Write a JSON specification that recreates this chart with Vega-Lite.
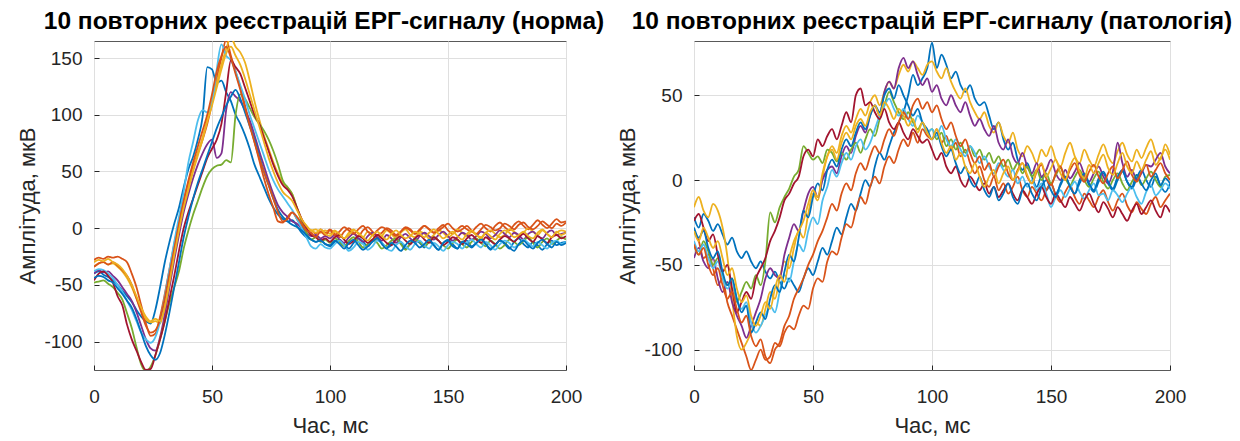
{
  "$schema": "https://vega.github.io/schema/vega-lite/v6.json",
  "background": "white",
  "padding": {"left": 16, "right": 0, "top": 8, "bottom": 0},
  "bounds": "flush",
  "spacing": 128,
  "config": {
    "font": "Liberation Sans",
    "view": {"stroke": "#595959", "strokeWidth": 1},
    "title": {"font": "Liberation Sans", "fontSize": 24.5, "fontWeight": "bold", "color": "#000000", "anchor": "middle", "frame": "group", "offset": 7},
    "axis": {
      "labelFont": "Liberation Sans", "labelFontSize": 19, "labelColor": "#262626",
      "titleFont": "Liberation Sans", "titleFontSize": 22, "titleFontWeight": "normal", "titleColor": "#262626",
      "grid": true, "gridColor": "#dfdfdf", "gridWidth": 1, "domain": false,
      "ticks": true, "tickColor": "#262626", "tickSize": -5, "labelFlush": false,
      "labelExpr": "'' + datum.value"
    },
    "axisX": {"labelPadding": 22, "titlePadding": 9},
    "axisY": {"labelPadding": 17, "titlePadding": 4}
  },
  "datasets": {
    "norma": [
      {"t":0,"a":-40,"b":-28,"c":-34,"d":-40,"e":-48,"f":-38,"g":-46,"h":-44,"i":-34,"j":-30},
      {"t":2,"a":-38,"b":-26,"c":-31,"d":-37,"e":-47,"f":-36,"g":-40,"h":-42,"i":-31,"j":-28},
      {"t":4,"a":-41,"b":-27,"c":-30,"d":-39,"e":-46,"f":-37,"g":-38,"h":-43,"i":-30,"j":-29},
      {"t":6,"a":-43,"b":-25,"c":-32,"d":-38,"e":-49,"f":-40,"g":-42,"h":-46,"i":-32,"j":-27},
      {"t":8,"a":-46,"b":-26,"c":-31,"d":-42,"e":-52,"f":-44,"g":-48,"h":-48,"i":-30,"j":-30},
      {"t":10,"a":-50,"b":-25,"c":-34,"d":-46,"e":-57,"f":-50,"g":-60,"h":-53,"i":-33,"j":-32},
      {"t":12,"a":-55,"b":-27,"c":-38,"d":-52,"e":-63,"f":-56,"g":-68,"h":-58,"i":-37,"j":-36},
      {"t":14,"a":-60,"b":-30,"c":-44,"d":-58,"e":-75,"f":-64,"g":-85,"h":-64,"i":-42,"j":-42},
      {"t":16,"a":-65,"b":-40,"c":-52,"d":-64,"e":-88,"f":-72,"g":-98,"h":-70,"i":-50,"j":-50},
      {"t":18,"a":-72,"b":-52,"c":-62,"d":-74,"e":-105,"f":-82,"g":-108,"h":-80,"i":-62,"j":-60},
      {"t":20,"a":-78,"b":-68,"c":-72,"d":-86,"e":-120,"f":-92,"g":-118,"h":-92,"i":-74,"j":-70},
      {"t":22,"a":-82,"b":-84,"c":-80,"d":-98,"e":-126,"f":-98,"g":-125,"h":-104,"i":-86,"j":-78},
      {"t":24,"a":-84,"b":-95,"c":-83,"d":-106,"e":-122,"f":-101,"g":-124,"h":-112,"i":-92,"j":-82},
      {"t":26,"a":-72,"b":-93,"c":-82,"d":-108,"e":-112,"f":-96,"g":-112,"h":-116,"i":-90,"j":-80},
      {"t":28,"a":-52,"b":-78,"c":-84,"d":-96,"e":-98,"f":-82,"g":-98,"h":-110,"i":-80,"j":-82},
      {"t":30,"a":-30,"b":-58,"c":-68,"d":-76,"e":-82,"f":-60,"g":-82,"h":-94,"i":-62,"j":-70},
      {"t":32,"a":-12,"b":-36,"c":-45,"d":-52,"e":-66,"f":-36,"g":-62,"h":-74,"i":-40,"j":-48},
      {"t":34,"a":4,"b":-14,"c":-20,"d":-28,"e":-52,"f":-12,"g":-42,"h":-52,"i":-18,"j":-24},
      {"t":36,"a":18,"b":6,"c":2,"d":-6,"e":-38,"f":10,"g":-20,"h":-30,"i":4,"j":-2},
      {"t":38,"a":36,"b":24,"c":22,"d":14,"e":-18,"f":32,"g":0,"h":-8,"i":24,"j":18},
      {"t":40,"a":52,"b":40,"c":38,"d":30,"e":-2,"f":58,"g":14,"h":10,"i":42,"j":34},
      {"t":42,"a":63,"b":54,"c":52,"d":44,"e":12,"f":76,"g":26,"h":26,"i":58,"j":50},
      {"t":44,"a":78,"b":66,"c":66,"d":56,"e":24,"f":95,"g":38,"h":40,"i":72,"j":64},
      {"t":46,"a":98,"b":78,"c":80,"d":66,"e":36,"f":104,"g":50,"h":52,"i":86,"j":78},
      {"t":48,"a":142,"b":92,"c":96,"d":74,"e":46,"f":102,"g":62,"h":64,"i":100,"j":94},
      {"t":50,"a":140,"b":110,"c":112,"d":78,"e":52,"f":110,"g":70,"h":76,"i":118,"j":108},
      {"t":52,"a":128,"b":132,"c":128,"d":62,"e":55,"f":140,"g":78,"h":88,"i":138,"j":124},
      {"t":54,"a":130,"b":150,"c":144,"d":66,"e":56,"f":162,"g":92,"h":98,"i":152,"j":140},
      {"t":56,"a":120,"b":166,"c":158,"d":104,"e":60,"f":152,"g":120,"h":108,"i":160,"j":154},
      {"t":58,"a":112,"b":152,"c":168,"d":120,"e":58,"f":148,"g":148,"h":116,"i":150,"j":160},
      {"t":60,"a":100,"b":138,"c":160,"d":116,"e":100,"f":138,"g":142,"h":122,"i":136,"j":152},
      {"t":62,"a":92,"b":124,"c":155,"d":112,"e":118,"f":126,"g":136,"h":114,"i":122,"j":144},
      {"t":64,"a":82,"b":108,"c":146,"d":104,"e":114,"f":114,"g":124,"h":102,"i":106,"j":132},
      {"t":66,"a":70,"b":92,"c":130,"d":95,"e":106,"f":100,"g":112,"h":90,"i":90,"j":118},
      {"t":68,"a":56,"b":76,"c":112,"d":82,"e":98,"f":88,"g":100,"h":78,"i":76,"j":104},
      {"t":70,"a":46,"b":60,"c":96,"d":68,"e":92,"f":76,"g":92,"h":64,"i":62,"j":90},
      {"t":72,"a":36,"b":44,"c":82,"d":55,"e":86,"f":64,"g":80,"h":50,"i":50,"j":76},
      {"t":74,"a":26,"b":30,"c":70,"d":42,"e":78,"f":52,"g":68,"h":38,"i":38,"j":62},
      {"t":76,"a":18,"b":18,"c":58,"d":30,"e":68,"f":42,"g":56,"h":26,"i":26,"j":50},
      {"t":78,"a":12,"b":6,"c":48,"d":20,"e":56,"f":34,"g":46,"h":16,"i":14,"j":40},
      {"t":80,"a":8,"b":5,"c":40,"d":14,"e":42,"f":28,"g":38,"h":10,"i":6,"j":32},
      {"t":82,"a":6,"b":10,"c":36,"d":10,"e":36,"f":22,"g":34,"h":6,"i":8,"j":28},
      {"t":84,"a":7,"b":14,"c":30,"d":6,"e":30,"f":16,"g":28,"h":3,"i":14,"j":24},
      {"t":86,"a":2,"b":8,"c":18,"d":4,"e":18,"f":8,"g":18,"h":1,"i":10,"j":16},
      {"t":88,"a":-4,"b":2,"c":8,"d":0,"e":6,"f":0,"g":8,"h":-2,"i":4,"j":8},
      {"t":90,"a":-8,"b":-3,"c":2,"d":-4,"e":-4,"f":-8,"g":0,"h":-6,"i":-2,"j":2},
      {"t":92,"a":-10,"b":-2,"c":-2,"d":-7,"e":-10,"f":-16,"g":-6,"h":-10,"i":-4,"j":-2},
      {"t":94,"a":-12,"b":-5,"c":-1,"d":-6,"e":-8,"f":-18,"g":-8,"h":-12,"i":-8,"j":-4},
      {"t":96,"a":-10,"b":-1,"c":-4,"d":-9,"e":-12,"f":-14,"g":-11,"h":-11,"i":-3,"j":-1},
      {"t":98,"a":-14,"b":-4,"c":-2,"d":-7,"e":-10,"f":-17,"g":-9,"h":-14,"i":-6,"j":-5},
      {"t":100,"a":-16,"b":-1,"c":-5,"d":-9,"e":-13,"f":-18,"g":-12,"h":-15,"i":-2,"j":-7},
      {"t":102,"a":-12,"b":-5,"c":-2,"d":-6,"e":-9,"f":-14,"g":-8,"h":-11,"i":-6,"j":-3},
      {"t":104,"a":-10,"b":-8,"c":-6,"d":-10,"e":-12,"f":-11,"g":-6,"h":-14,"i":-3,"j":-5},
      {"t":106,"a":-14,"b":-3,"c":-9,"d":-13,"e":-16,"f":-15,"g":-10,"h":-18,"i":1,"j":-9},
      {"t":108,"a":-18,"b":0,"c":-4,"d":-8,"e":-11,"f":-20,"g":-14,"h":-13,"i":-2,"j":-6},
      {"t":110,"a":-13,"b":-4,"c":-1,"d":-5,"e":-8,"f":-17,"g":-11,"h":-10,"i":-5,"j":-2},
      {"t":112,"a":-9,"b":-7,"c":-5,"d":-9,"e":-12,"f":-12,"g":-7,"h":-15,"i":-1,"j":-4},
      {"t":114,"a":-12,"b":-2,"c":-8,"d":-12,"e":-17,"f":-14,"g":-9,"h":-19,"i":2,"j":-8},
      {"t":116,"a":-16,"b":1,"c":-3,"d":-7,"e":-14,"f":-19,"g":-13,"h":-16,"i":-3,"j":-11},
      {"t":118,"a":-11,"b":-3,"c":-6,"d":-4,"e":-10,"f":-16,"g":-10,"h":-12,"i":-6,"j":-6},
      {"t":120,"a":-8,"b":-6,"c":-10,"d":-8,"e":-13,"f":-11,"g":-6,"h":-9,"i":-2,"j":-3},
      {"t":122,"a":-13,"b":-4,"c":-7,"d":-11,"e":-18,"f":-13,"g":-9,"h":-14,"i":1,"j":-7},
      {"t":124,"a":-17,"b":0,"c":-2,"d":-6,"e":-15,"f":-18,"g":-13,"h":-18,"i":-1,"j":-10},
      {"t":126,"a":-15,"b":-2,"c":-5,"d":-9,"e":-11,"f":-20,"g":-15,"h":-13,"i":-4,"j":-5},
      {"t":128,"a":-10,"b":-6,"c":-9,"d":-13,"e":-9,"f":-15,"g":-10,"h":-16,"i":-7,"j":-2},
      {"t":130,"a":-12,"b":-3,"c":-4,"d":-8,"e":-14,"f":-12,"g":-7,"h":-20,"i":-3,"j":-6},
      {"t":132,"a":-18,"b":1,"c":-1,"d":-5,"e":-19,"f":-16,"g":-11,"h":-15,"i":0,"j":-9},
      {"t":134,"a":-14,"b":-1,"c":-6,"d":-9,"e":-13,"f":-19,"g":-14,"h":-11,"i":-2,"j":-7},
      {"t":136,"a":-9,"b":-5,"c":-8,"d":-12,"e":-10,"f":-14,"g":-9,"h":-13,"i":-5,"j":-3},
      {"t":138,"a":-13,"b":-2,"c":-3,"d":-7,"e":-12,"f":-11,"g":-6,"h":-17,"i":-1,"j":-5},
      {"t":140,"a":-17,"b":2,"c":-5,"d":-4,"e":-16,"f":-15,"g":-10,"h":-14,"i":2,"j":-8},
      {"t":142,"a":-12,"b":-1,"c":-9,"d":-7,"e":-12,"f":-18,"g":-13,"h":-10,"i":-1,"j":-4},
      {"t":144,"a":-15,"b":-4,"c":-6,"d":-10,"e":-8,"f":-13,"g":-8,"h":-15,"i":-4,"j":-1},
      {"t":146,"a":-19,"b":0,"c":-2,"d":-6,"e":-11,"f":-16,"g":-11,"h":-19,"i":-2,"j":-5},
      {"t":148,"a":-13,"b":3,"c":-4,"d":-3,"e":-15,"f":-20,"g":-15,"h":-13,"i":1,"j":-9},
      {"t":150,"a":-10,"b":-2,"c":-8,"d":-7,"e":-18,"f":-15,"g":-12,"h":-11,"i":4,"j":-6},
      {"t":152,"a":-14,"b":-5,"c":-5,"d":-11,"e":-13,"f":-12,"g":-8,"h":-16,"i":0,"j":-3},
      {"t":154,"a":-18,"b":-1,"c":-1,"d":-8,"e":-10,"f":-14,"g":-10,"h":-18,"i":-3,"j":-7},
      {"t":156,"a":-12,"b":2,"c":-4,"d":-4,"e":-14,"f":-18,"g":-14,"h":-12,"i":-1,"j":-10},
      {"t":158,"a":-11,"b":-1,"c":-7,"d":-6,"e":-17,"f":-13,"g":-9,"h":-14,"i":2,"j":-5},
      {"t":160,"a":-16,"b":-3,"c":-3,"d":-10,"e":-12,"f":-10,"g":-6,"h":-17,"i":-2,"j":-2},
      {"t":162,"a":-13,"b":1,"c":-6,"d":-7,"e":-9,"f":-14,"g":-10,"h":-13,"i":-5,"j":-6},
      {"t":164,"a":-9,"b":4,"c":-9,"d":-3,"e":-13,"f":-17,"g":-13,"h":-10,"i":-1,"j":-8},
      {"t":166,"a":-14,"b":0,"c":-4,"d":-5,"e":-16,"f":-12,"g":-8,"h":-14,"i":3,"j":-4},
      {"t":168,"a":-19,"b":-3,"c":-2,"d":-9,"e":-11,"f":-15,"g":-11,"h":-18,"i":1,"j":-7},
      {"t":170,"a":-15,"b":2,"c":-5,"d":-6,"e":-14,"f":-19,"g":-14,"h":-15,"i":-2,"j":-10},
      {"t":172,"a":-11,"b":5,"c":-8,"d":-2,"e":-18,"f":-14,"g":-10,"h":-11,"i":0,"j":-5},
      {"t":174,"a":-14,"b":1,"c":-6,"d":-5,"e":-15,"f":-11,"g":-7,"h":-13,"i":4,"j":-2},
      {"t":176,"a":-18,"b":-2,"c":-1,"d":-8,"e":-10,"f":-13,"g":-9,"h":-17,"i":2,"j":-4},
      {"t":178,"a":-12,"b":3,"c":-3,"d":-4,"e":-12,"f":-17,"g":-12,"h":-20,"i":-1,"j":-8},
      {"t":180,"a":-9,"b":6,"c":-7,"d":-6,"e":-15,"f":-14,"g":-8,"h":-14,"i":3,"j":-6},
      {"t":182,"a":-14,"b":2,"c":-4,"d":-10,"e":-11,"f":-10,"g":-5,"h":-11,"i":5,"j":-3},
      {"t":184,"a":-17,"b":-1,"c":0,"d":-5,"e":-8,"f":-13,"g":-9,"h":-15,"i":1,"j":-7},
      {"t":186,"a":-12,"b":3,"c":-3,"d":-3,"e":-13,"f":-16,"g":-12,"h":-18,"i":-1,"j":-9},
      {"t":188,"a":-15,"b":7,"c":-6,"d":-7,"e":-17,"f":-12,"g":-7,"h":-13,"i":2,"j":-4},
      {"t":190,"a":-19,"b":3,"c":-2,"d":-9,"e":-12,"f":-15,"g":-10,"h":-10,"i":6,"j":-1},
      {"t":192,"a":-14,"b":0,"c":-5,"d":-4,"e":-9,"f":-18,"g":-13,"h":-14,"i":3,"j":-5},
      {"t":194,"a":-11,"b":4,"c":-8,"d":-2,"e":-14,"f":-13,"g":-8,"h":-17,"i":0,"j":-8},
      {"t":196,"a":-15,"b":8,"c":-4,"d":-6,"e":-11,"f":-11,"g":-6,"h":-12,"i":4,"j":-3},
      {"t":198,"a":-13,"b":5,"c":-2,"d":-5,"e":-8,"f":-14,"g":-9,"h":-15,"i":2,"j":-6},
      {"t":200,"a":-12,"b":6,"c":-3,"d":-4,"e":-10,"f":-12,"g":-7,"h":-13,"i":5,"j":-4}
    ],
    "patologiia": [
      {"t":0,"a":-22,"b":-30,"c":-16,"d":-46,"e":-38,"f":-36,"g":-24,"h":-28,"i":-38,"j":-30},
      {"t":2,"a":-28,"b":-36,"c":-10,"d":-40,"e":-44,"f":-42,"g":-20,"h":-34,"i":-44,"j":-36},
      {"t":4,"a":-20,"b":-46,"c":-18,"d":-48,"e":-36,"f":-38,"g":-28,"h":-30,"i":-40,"j":-28},
      {"t":6,"a":-24,"b":-44,"c":-22,"d":-52,"e":-42,"f":-46,"g":-36,"h":-40,"i":-50,"j":-34},
      {"t":8,"a":-30,"b":-52,"c":-14,"d":-46,"e":-50,"f":-52,"g":-32,"h":-46,"i":-56,"j":-40},
      {"t":10,"a":-26,"b":-62,"c":-18,"d":-58,"e":-46,"f":-48,"g":-44,"h":-42,"i":-52,"j":-36},
      {"t":12,"a":-32,"b":-58,"c":-28,"d":-66,"e":-56,"f":-58,"g":-54,"h":-54,"i":-62,"j":-46},
      {"t":14,"a":-38,"b":-72,"c":-45,"d":-60,"e":-62,"f":-64,"g":-50,"h":-62,"i":-70,"j":-56},
      {"t":16,"a":-34,"b":-80,"c":-70,"d":-72,"e":-58,"f":-60,"g":-64,"h":-58,"i":-66,"j":-52},
      {"t":18,"a":-42,"b":-88,"c":-92,"d":-80,"e":-72,"f":-70,"g":-78,"h":-70,"i":-76,"j":-64},
      {"t":20,"a":-46,"b":-96,"c":-100,"d":-86,"e":-66,"f":-76,"g":-72,"h":-78,"i":-84,"j":-72},
      {"t":22,"a":-42,"b":-104,"c":-96,"d":-93,"e":-60,"f":-72,"g":-66,"h":-74,"i":-80,"j":-68},
      {"t":24,"a":-48,"b":-112,"c":-90,"d":-86,"e":-64,"f":-84,"g":-70,"h":-90,"i":-92,"j":-80},
      {"t":26,"a":-52,"b":-106,"c":-84,"d":-78,"e":-56,"f":-90,"g":-58,"h":-84,"i":-98,"j":-86},
      {"t":28,"a":-48,"b":-100,"c":-86,"d":-70,"e":-62,"f":-86,"g":-52,"h":-78,"i":-94,"j":-80},
      {"t":30,"a":-54,"b":-106,"c":-76,"d":-58,"e":-48,"f":-80,"g":-46,"h":-82,"i":-104,"j":-72},
      {"t":32,"a":-58,"b":-104,"c":-66,"d":-52,"e":-19,"f":-74,"g":-36,"h":-70,"i":-108,"j":-76},
      {"t":34,"a":-54,"b":-96,"c":-70,"d":-56,"e":-25,"f":-78,"g":-30,"h":-62,"i":-100,"j":-64},
      {"t":36,"a":-60,"b":-98,"c":-58,"d":-58,"e":-16,"f":-66,"g":-22,"h":-66,"i":-96,"j":-56},
      {"t":38,"a":-64,"b":-90,"c":-48,"d":-44,"e":-10,"f":-56,"g":-12,"h":-54,"i":-86,"j":-60},
      {"t":40,"a":-58,"b":-86,"c":-52,"d":-34,"e":-5,"f":-60,"g":-8,"h":-44,"i":-80,"j":-46},
      {"t":42,"a":-62,"b":-88,"c":-40,"d":-26,"e":2,"f":-48,"g":-2,"h":-48,"i":-70,"j":-36},
      {"t":44,"a":-66,"b":-80,"c":-30,"d":-30,"e":6,"f":-38,"g":2,"h":-34,"i":-64,"j":-30},
      {"t":46,"a":-58,"b":-74,"c":-34,"d":-18,"e":20,"f":-42,"g":14,"h":-18,"i":-58,"j":-24},
      {"t":48,"a":-52,"b":-76,"c":-20,"d":-8,"e":16,"f":-30,"g":18,"h":-22,"i":-50,"j":-14},
      {"t":50,"a":-56,"b":-64,"c":-8,"d":-4,"e":12,"f":-22,"g":14,"h":-10,"i":-44,"j":-6},
      {"t":52,"a":-48,"b":-58,"c":-12,"d":-10,"e":14,"f":-26,"g":24,"h":-2,"i":-36,"j":-10},
      {"t":54,"a":-40,"b":-60,"c":2,"d":0,"e":10,"f":-12,"g":20,"h":-6,"i":-30,"j":4},
      {"t":56,"a":-44,"b":-48,"c":14,"d":6,"e":18,"f":-4,"g":26,"h":6,"i":-22,"j":14},
      {"t":58,"a":-36,"b":-42,"c":20,"d":8,"e":16,"f":6,"g":30,"h":12,"i":-14,"j":18},
      {"t":60,"a":-28,"b":-44,"c":16,"d":4,"e":11,"f":2,"g":24,"h":8,"i":-18,"j":12},
      {"t":62,"a":-32,"b":-34,"c":26,"d":14,"e":16,"f":10,"g":32,"h":18,"i":-8,"j":22},
      {"t":64,"a":-22,"b":-26,"c":32,"d":20,"e":12,"f":16,"g":40,"h":24,"i":-2,"j":28},
      {"t":66,"a":-14,"b":-28,"c":28,"d":16,"e":18,"f":12,"g":34,"h":20,"i":-6,"j":24},
      {"t":68,"a":-18,"b":-18,"c":36,"d":26,"e":22,"f":20,"g":50,"h":28,"i":4,"j":32},
      {"t":70,"a":-8,"b":-10,"c":42,"d":32,"e":16,"f":24,"g":54,"h":34,"i":10,"j":36},
      {"t":72,"a":0,"b":-14,"c":38,"d":28,"e":24,"f":18,"g":44,"h":30,"i":6,"j":32},
      {"t":74,"a":-4,"b":-4,"c":46,"d":38,"e":30,"f":22,"g":46,"h":38,"i":14,"j":40},
      {"t":76,"a":8,"b":2,"c":50,"d":44,"e":26,"f":30,"g":40,"h":44,"i":20,"j":44},
      {"t":78,"a":16,"b":-2,"c":44,"d":38,"e":36,"f":38,"g":36,"h":40,"i":16,"j":38},
      {"t":80,"a":12,"b":8,"c":52,"d":52,"e":44,"f":44,"g":42,"h":50,"i":24,"j":46},
      {"t":82,"a":20,"b":14,"c":58,"d":58,"e":52,"f":48,"g":34,"h":54,"i":30,"j":42},
      {"t":84,"a":28,"b":10,"c":54,"d":54,"e":46,"f":42,"g":30,"h":48,"i":26,"j":36},
      {"t":86,"a":34,"b":18,"c":62,"d":66,"e":40,"f":38,"g":34,"h":56,"i":34,"j":42},
      {"t":88,"a":40,"b":24,"c":68,"d":72,"e":36,"f":42,"g":28,"h":50,"i":40,"j":38},
      {"t":90,"a":50,"b":20,"c":64,"d":66,"e":40,"f":36,"g":24,"h":44,"i":36,"j":32},
      {"t":92,"a":62,"b":28,"c":70,"d":70,"e":34,"f":32,"g":30,"h":38,"i":44,"j":36},
      {"t":94,"a":56,"b":22,"c":66,"d":62,"e":30,"f":38,"g":26,"h":42,"i":48,"j":28},
      {"t":96,"a":60,"b":30,"c":62,"d":56,"e":34,"f":34,"g":22,"h":34,"i":42,"j":34},
      {"t":98,"a":66,"b":26,"c":68,"d":60,"e":28,"f":28,"g":24,"h":30,"i":46,"j":28},
      {"t":100,"a":81,"b":24,"c":70,"d":52,"e":30,"f":30,"g":18,"h":24,"i":40,"j":24},
      {"t":102,"a":66,"b":30,"c":64,"d":56,"e":24,"f":26,"g":12,"h":28,"i":44,"j":30},
      {"t":104,"a":74,"b":22,"c":60,"d":48,"e":28,"f":32,"g":16,"h":20,"i":36,"j":22},
      {"t":106,"a":68,"b":26,"c":66,"d":44,"e":20,"f":24,"g":8,"h":14,"i":30,"j":16},
      {"t":108,"a":60,"b":18,"c":58,"d":50,"e":24,"f":20,"g":4,"h":18,"i":34,"j":20},
      {"t":110,"a":64,"b":22,"c":52,"d":44,"e":18,"f":24,"g":8,"h":10,"i":26,"j":12},
      {"t":112,"a":56,"b":14,"c":48,"d":40,"e":22,"f":18,"g":0,"h":4,"i":20,"j":16},
      {"t":114,"a":52,"b":18,"c":54,"d":46,"e":16,"f":14,"g":-4,"h":8,"i":24,"j":8},
      {"t":116,"a":56,"b":10,"c":46,"d":38,"e":20,"f":20,"g":2,"h":0,"i":16,"j":4},
      {"t":118,"a":48,"b":4,"c":40,"d":32,"e":14,"f":16,"g":-2,"h":-4,"i":10,"j":10},
      {"t":120,"a":44,"b":8,"c":36,"d":36,"e":18,"f":10,"g":-6,"h":2,"i":14,"j":2},
      {"t":122,"a":46,"b":0,"c":40,"d":30,"e":12,"f":14,"g":-2,"h":-6,"i":6,"j":-4},
      {"t":124,"a":38,"b":-4,"c":32,"d":26,"e":16,"f":8,"g":-8,"h":-10,"i":10,"j":2},
      {"t":126,"a":30,"b":2,"c":28,"d":32,"e":10,"f":4,"g":-4,"h":-4,"i":2,"j":6},
      {"t":128,"a":34,"b":-6,"c":34,"d":22,"e":14,"f":10,"g":-10,"h":-12,"i":8,"j":-2},
      {"t":130,"a":24,"b":-2,"c":26,"d":18,"e":8,"f":6,"g":-6,"h":-8,"i":12,"j":4},
      {"t":132,"a":18,"b":-8,"c":22,"d":24,"e":12,"f":2,"g":-2,"h":-2,"i":4,"j":8},
      {"t":134,"a":22,"b":-4,"c":28,"d":14,"e":6,"f":6,"g":-8,"h":-10,"i":0,"j":0},
      {"t":136,"a":12,"b":2,"c":18,"d":10,"e":10,"f":-2,"g":-12,"h":-14,"i":6,"j":5},
      {"t":138,"a":6,"b":-6,"c":14,"d":16,"e":4,"f":2,"g":-6,"h":-6,"i":10,"j":10},
      {"t":140,"a":10,"b":-10,"c":20,"d":8,"e":8,"f":-4,"g":-10,"h":-2,"i":2,"j":3},
      {"t":142,"a":2,"b":-4,"c":16,"d":4,"e":2,"f":0,"g":-14,"h":-8,"i":-2,"j":-2},
      {"t":144,"a":-4,"b":-8,"c":10,"d":10,"e":6,"f":-6,"g":-8,"h":-12,"i":5,"j":6},
      {"t":146,"a":2,"b":-12,"c":18,"d":2,"e":0,"f":-2,"g":-4,"h":-4,"i":9,"j":10},
      {"t":148,"a":-6,"b":-6,"c":14,"d":6,"e":4,"f":-8,"g":-10,"h":0,"i":1,"j":2},
      {"t":150,"a":-2,"b":-2,"c":20,"d":12,"e":-2,"f":-16,"g":-14,"h":-6,"i":-3,"j":7},
      {"t":152,"a":-8,"b":-9,"c":12,"d":4,"e":3,"f":-10,"g":-8,"h":-10,"i":4,"j":12},
      {"t":154,"a":-3,"b":-13,"c":8,"d":0,"e":7,"f":-6,"g":-12,"h":-2,"i":8,"j":4},
      {"t":156,"a":2,"b":-7,"c":16,"d":6,"e":1,"f":-10,"g":-16,"h":2,"i":0,"j":0},
      {"t":158,"a":-4,"b":-3,"c":22,"d":1,"e":-3,"f":-5,"g":-10,"h":-4,"i":6,"j":8},
      {"t":160,"a":-8,"b":-10,"c":14,"d":5,"e":2,"f":-1,"g":-14,"h":-8,"i":10,"j":13},
      {"t":162,"a":-2,"b":-14,"c":10,"d":10,"e":6,"f":-7,"g":-18,"h":0,"i":3,"j":5},
      {"t":164,"a":3,"b":-8,"c":18,"d":3,"e":0,"f":-11,"g":-12,"h":4,"i":-1,"j":1},
      {"t":166,"a":-3,"b":-12,"c":12,"d":-1,"e":-4,"f":-6,"g":-8,"h":-2,"i":5,"j":9},
      {"t":168,"a":-7,"b":-16,"c":8,"d":4,"e":1,"f":-2,"g":-14,"h":-6,"i":9,"j":4},
      {"t":170,"a":-1,"b":-10,"c":15,"d":8,"e":5,"f":-9,"g":-19,"h":1,"i":2,"j":10},
      {"t":172,"a":4,"b":-6,"c":21,"d":2,"e":-1,"f":-8,"g":-13,"h":5,"i":-2,"j":15},
      {"t":174,"a":-2,"b":-13,"c":14,"d":-2,"e":-5,"f":-12,"g":-17,"h":-1,"i":4,"j":7},
      {"t":176,"a":-6,"b":-18,"c":10,"d":5,"e":0,"f":-6,"g":-22,"h":-5,"i":8,"j":3},
      {"t":178,"a":0,"b":-12,"c":17,"d":22,"e":4,"f":-9,"g":-16,"h":2,"i":1,"j":10},
      {"t":180,"a":5,"b":-8,"c":22,"d":10,"e":-2,"f":-13,"g":-20,"h":6,"i":6,"j":16},
      {"t":182,"a":-1,"b":-15,"c":15,"d":2,"e":-6,"f":-8,"g":-24,"h":-1,"i":11,"j":8},
      {"t":184,"a":-5,"b":-19,"c":11,"d":6,"e":-1,"f":-4,"g":-18,"h":-4,"i":3,"j":4},
      {"t":186,"a":1,"b":-13,"c":18,"d":0,"e":3,"f":-10,"g":-14,"h":3,"i":-1,"j":11},
      {"t":188,"a":6,"b":-17,"c":13,"d":4,"e":-3,"f":-14,"g":-20,"h":-2,"i":5,"j":6},
      {"t":190,"a":0,"b":-20,"c":19,"d":9,"e":1,"f":-7,"g":-16,"h":-6,"i":9,"j":12},
      {"t":192,"a":-4,"b":-14,"c":24,"d":8,"e":5,"f":-3,"g":-12,"h":0,"i":2,"j":17},
      {"t":194,"a":2,"b":-10,"c":16,"d":12,"e":0,"f":-9,"g":-18,"h":4,"i":6,"j":9},
      {"t":196,"a":-3,"b":-16,"c":12,"d":16,"e":-4,"f":-6,"g":-22,"h":-3,"i":10,"j":13},
      {"t":198,"a":-7,"b":-12,"c":21,"d":8,"e":2,"f":-2,"g":-15,"h":1,"i":4,"j":18},
      {"t":200,"a":-2,"b":-8,"c":15,"d":4,"e":3,"f":-5,"g":-19,"h":-2,"i":0,"j":12}
    ]
  },
  "hconcat": [
    {
      "data": {"name": "norma"},
      "transform": [{"fold": ["a", "b", "c", "d", "e", "f", "g", "h", "i", "j"], "as": ["s", "v"]}],
      "title": {"text": "10 повторних реєстрацій ЕРГ-сигналу (норма)", "dx": -6},
      "width": 472,
      "height": 329,
      "mark": {"type": "line", "strokeWidth": 1.8, "clip": true, "interpolate": "monotone"},
      "encoding": {
        "x": {"field": "t", "type": "quantitative", "scale": {"domain": [0, 200], "nice": false},
              "axis": {"values": [0, 50, 100, 150, 200], "title": "Час, мс"}},
        "y": {"field": "v", "type": "quantitative", "scale": {"domain": [-125, 165], "nice": false, "zero": false},
              "axis": {"values": [-100, -50, 0, 50, 100, 150], "title": "Амплітуда, мкВ"}},
        "color": {"field": "s", "type": "nominal", "legend": null,
                  "scale": {"domain": ["a", "b", "c", "d", "e", "f", "g", "h", "i", "j"],
                            "range": ["#0072BD", "#D95319", "#EDB120", "#7E2F8E", "#77AC30", "#4DBEEE", "#A2142F", "#0072BD", "#D95319", "#EDB120"]}}
      }
    },
    {
      "data": {"name": "patologiia"},
      "transform": [{"fold": ["a", "b", "c", "d", "e", "f", "g", "h", "i", "j"], "as": ["s", "v"]}],
      "title": "10 повторних реєстрацій ЕРГ-сигналу (патологія)",
      "width": 476,
      "height": 329,
      "mark": {"type": "line", "strokeWidth": 1.8, "clip": true, "interpolate": "monotone"},
      "encoding": {
        "x": {"field": "t", "type": "quantitative", "scale": {"domain": [0, 200], "nice": false},
              "axis": {"values": [0, 50, 100, 150, 200], "title": "Час, мс"}},
        "y": {"field": "v", "type": "quantitative", "scale": {"domain": [-112, 82], "nice": false, "zero": false},
              "axis": {"values": [-100, -50, 0, 50], "title": "Амплітуда, мкВ"}},
        "color": {"field": "s", "type": "nominal", "legend": null,
                  "scale": {"domain": ["a", "b", "c", "d", "e", "f", "g", "h", "i", "j"],
                            "range": ["#0072BD", "#D95319", "#EDB120", "#7E2F8E", "#77AC30", "#4DBEEE", "#A2142F", "#0072BD", "#D95319", "#EDB120"]}}
      }
    }
  ]
}
